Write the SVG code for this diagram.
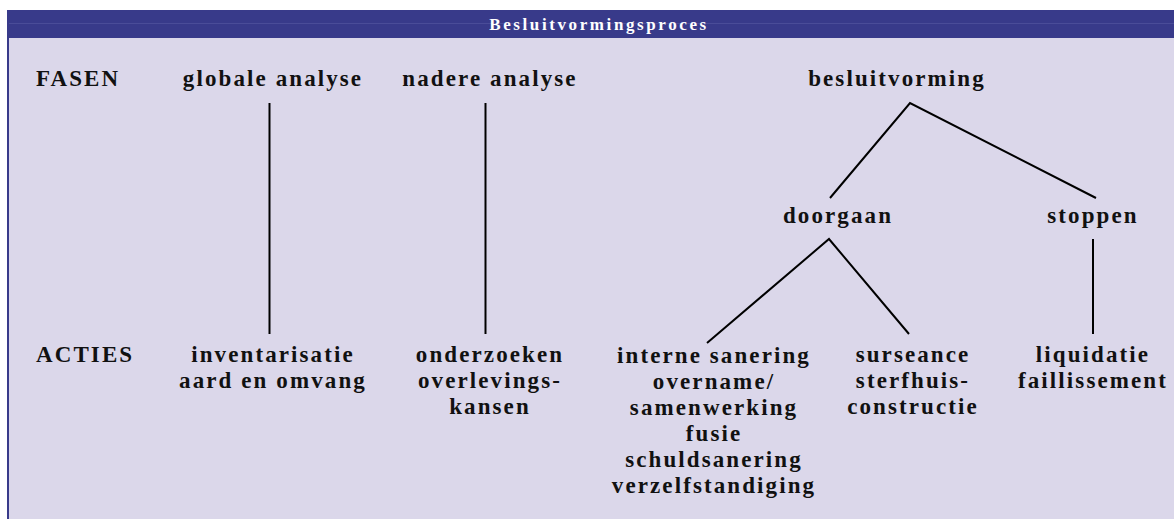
<svg xmlns="http://www.w3.org/2000/svg" width="1174" height="519" viewBox="0 0 1174 519">
  <style>
    .t { font-family: "Liberation Serif", serif; font-weight: bold; font-size: 23px; letter-spacing: 2.1px; fill: #111111; }
    .c { text-anchor: middle; }
    .title { font-family: "Liberation Serif", serif; font-weight: bold; font-size: 17px; letter-spacing: 2.6px; fill: #ffffff; text-anchor: middle; }
    .ln { stroke: #000000; stroke-width: 2; fill: none; }
  </style>
  <rect x="0" y="0" width="1174" height="519" fill="#ffffff"/>
  <rect x="7" y="10" width="1167" height="509" fill="#dbd7ea"/>
  <rect x="7" y="10" width="1167" height="28" fill="#383a8a"/>
  <line x1="7" y1="23.5" x2="1174" y2="23.5" stroke="#4a4c98" stroke-width="1"/>
  <line x1="8" y1="10" x2="8" y2="519" stroke="#383a8a" stroke-width="2"/>
  <g id="header"><text class="title" x="599" y="30">Besluitvormingsproces</text></g>

  <g id="connectors">
    <line class="ln" x1="269.5" y1="103" x2="269.5" y2="334"/>
    <line class="ln" x1="485.5" y1="103" x2="485.5" y2="334"/>
    <polyline class="ln" points="830,198 910,103 1096,198"/>
    <polyline class="ln" points="707,343 829,239 909,334"/>
    <line class="ln" x1="1093" y1="239" x2="1093" y2="334"/>
  </g>

  <g id="label-fasen"><text class="t" x="36" y="86">FASEN</text></g>
  <g id="label-acties"><text class="t" x="36" y="362">ACTIES</text></g>

  <g id="globale-analyse"><text class="t c" x="273" y="86">globale analyse</text></g>
  <g id="nadere-analyse"><text class="t c" x="490" y="86">nadere analyse</text></g>
  <g id="besluitvorming"><text class="t c" x="897" y="86">besluitvorming</text></g>
  <g id="doorgaan"><text class="t c" x="838" y="223">doorgaan</text></g>
  <g id="stoppen"><text class="t c" x="1093" y="223">stoppen</text></g>

  <g id="inventarisatie">
    <text class="t c" x="273" y="362">inventarisatie</text>
    <text class="t c" x="273" y="388">aard en omvang</text>
  </g>
  <g id="onderzoeken">
    <text class="t c" x="490" y="362">onderzoeken</text>
    <text class="t c" x="490" y="388">overlevings-</text>
    <text class="t c" x="490" y="414">kansen</text>
  </g>
  <g id="doorgaan-acties">
    <text class="t c" x="714" y="363">interne sanering</text>
    <text class="t c" x="714" y="389">overname/</text>
    <text class="t c" x="714" y="415">samenwerking</text>
    <text class="t c" x="714" y="441">fusie</text>
    <text class="t c" x="714" y="467">schuldsanering</text>
    <text class="t c" x="714" y="493">verzelfstandiging</text>
  </g>
  <g id="surseance">
    <text class="t c" x="913" y="362">surseance</text>
    <text class="t c" x="913" y="388">sterfhuis-</text>
    <text class="t c" x="913" y="414">constructie</text>
  </g>
  <g id="liquidatie">
    <text class="t c" x="1093" y="362">liquidatie</text>
    <text class="t c" x="1093" y="388">faillissement</text>
  </g>
</svg>
